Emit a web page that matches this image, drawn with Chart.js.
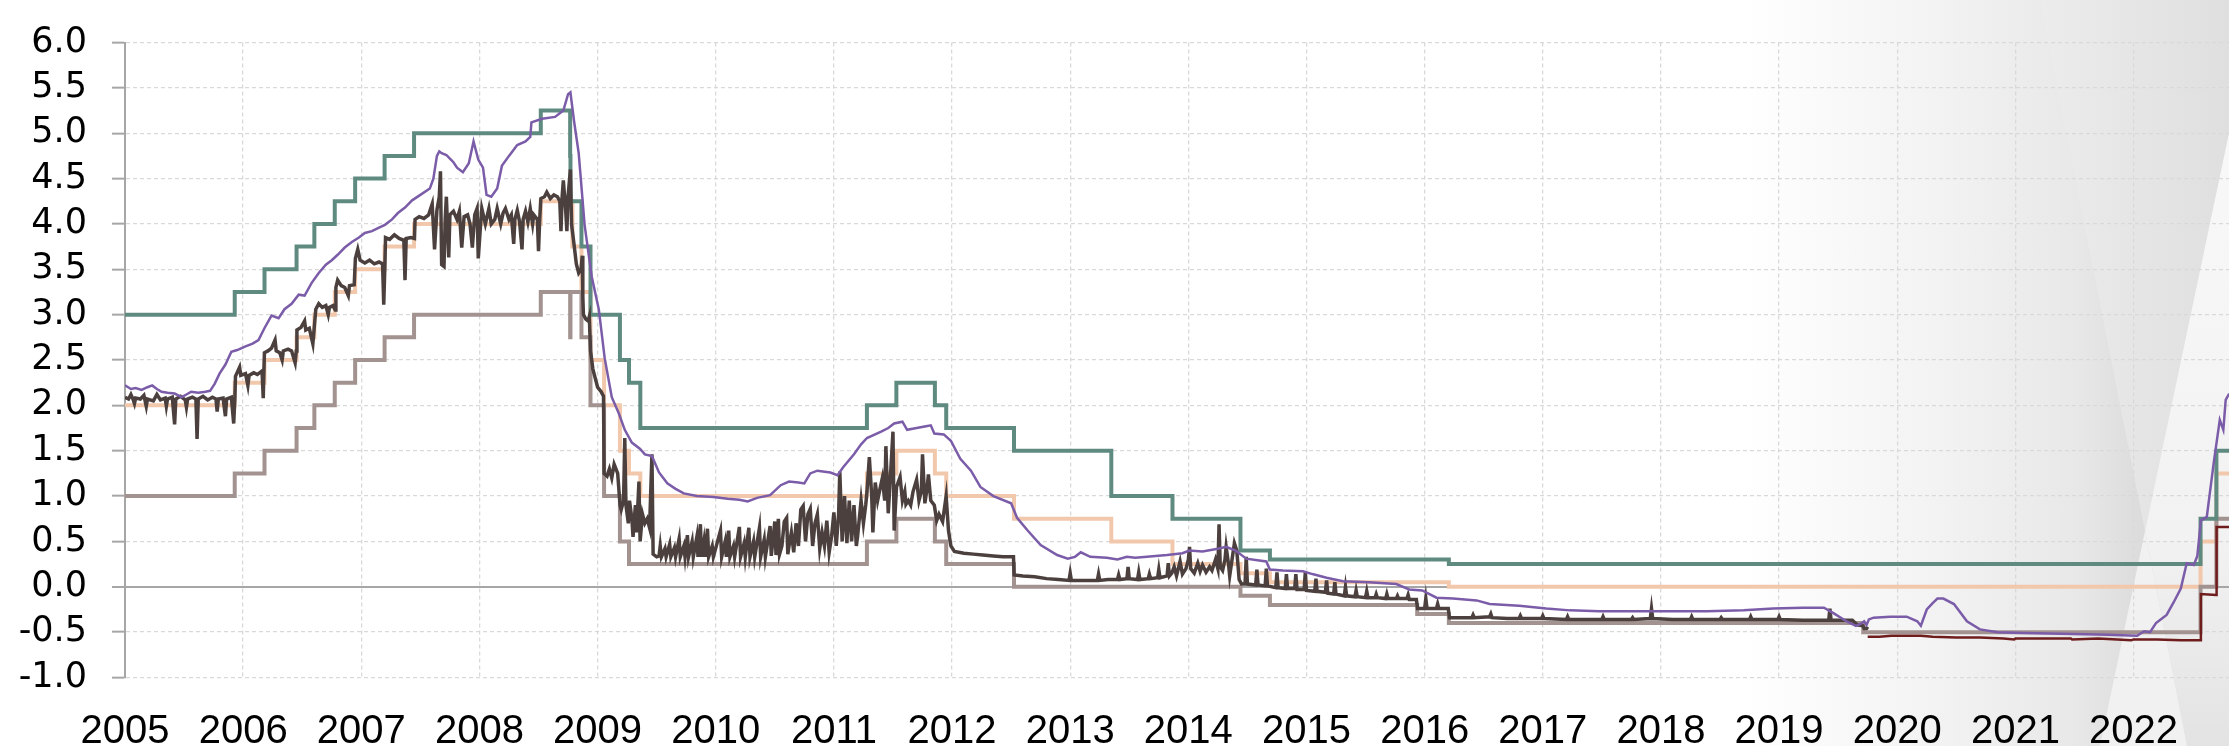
<!DOCTYPE html>
<html>
<head>
<meta charset="utf-8">
<script src="https://cdn.jsdelivr.net/npm/chart.js@4/dist/chart.umd.min.js"></script>
<style>
  html, body { margin: 0; padding: 0; background: #fff; }
  #wrap { position: relative; width: 2229px; height: 746px; }
  #bg, #rates { position: absolute; left: 0; top: 0; }
</style>
</head>
<body>
<div id="wrap">
  <svg id="bg" width="2229" height="746" viewBox="0 0 2229 746">
    <defs>
      <linearGradient id="base" gradientUnits="userSpaceOnUse" x1="1740" y1="0" x2="2150" y2="0">
        <stop offset="0" stop-color="#ffffff"/>
        <stop offset="0.5" stop-color="#f2f2f2"/>
        <stop offset="0.82" stop-color="#e8e8e8"/>
        <stop offset="1" stop-color="#dadada"/>
      </linearGradient>
      <linearGradient id="topw" gradientUnits="userSpaceOnUse" x1="2040" y1="0" x2="2229" y2="0">
        <stop offset="0" stop-color="#ececec"/>
        <stop offset="1" stop-color="#dfdfdf"/>
      </linearGradient>
      <linearGradient id="rightw" gradientUnits="userSpaceOnUse" x1="0" y1="150" x2="0" y2="746">
        <stop offset="0" stop-color="#f8f8f8"/>
        <stop offset="0.65" stop-color="#f2f2f2"/>
        <stop offset="1" stop-color="#e3e3e3"/>
      </linearGradient>
    </defs>
    <rect x="1700" y="0" width="529" height="746" fill="url(#base)"/>
    <polygon points="2040,0 2257,0 2145,531" fill="url(#topw)"/>
    <polygon points="2229,133 2229,746 2187,746 2145,531" fill="url(#rightw)"/>
    <polygon points="2145,531 2100,746 2187,746" fill="#f1f1f1"/>
  </svg>
  <canvas id="rates" width="2229" height="746"></canvas>
</div>
<script>
// year ticks on the time axis
const yearTicks = [2005, 2006, 2007, 2008, 2009, 2010, 2011, 2012, 2013, 2014,
                   2015, 2016, 2017, 2018, 2019, 2020, 2021, 2022];

// ECB policy rates (change dates)
const rateDates = ['2005-01-01', '2005-12-06', '2006-03-08', '2006-06-15', '2006-08-09', '2006-10-11',
  '2006-12-13', '2007-03-14', '2007-06-13', '2008-07-09', '2008-10-08', '2008-10-09', '2008-10-15',
  '2008-11-12', '2008-12-10', '2009-01-21', '2009-03-11', '2009-04-08', '2009-05-13', '2011-04-13',
  '2011-07-13', '2011-11-09', '2011-12-14', '2012-07-11', '2013-05-08', '2013-11-13', '2014-06-11',
  '2014-09-10', '2015-12-09', '2016-03-16', '2019-09-18', '2022-07-27', '2022-09-14', '2022-10-31'];
const marginalLending = [3.00, 3.25, 3.50, 3.75, 4.00, 4.25, 4.50, 4.75, 5.00, 5.25, 4.75, 4.25, 4.25,
  3.75, 3.00, 3.00, 2.50, 2.25, 1.75, 2.00, 2.25, 2.00, 1.75, 1.50, 1.00, 0.75, 0.40, 0.30, 0.30, 0.25,
  0.25, 0.75, 1.50, 1.50];
const mainRefi = [2.00, 2.25, 2.50, 2.75, 3.00, 3.25, 3.50, 3.75, 4.00, 4.25, 4.25, 4.25, 3.75, 3.25,
  2.50, 2.00, 1.50, 1.25, 1.00, 1.25, 1.50, 1.25, 1.00, 0.75, 0.50, 0.25, 0.15, 0.05, 0.05, 0.00, 0.00,
  0.50, 1.25, 1.25];
const depositFacility = [1.00, 1.25, 1.50, 1.75, 2.00, 2.25, 2.50, 2.75, 3.00, 3.25, 2.75, 3.25, 3.25,
  2.75, 2.00, 1.00, 0.50, 0.25, 0.25, 0.50, 0.75, 0.50, 0.25, 0.00, 0.00, 0.00, -0.10, -0.20, -0.30,
  -0.40, -0.50, 0.00, 0.75, 0.75];

// EONIA [year, %]
const eonia = [
  [2005.00,2.09],[2005.03,2.07],[2005.05,2.12],[2005.07,2.06],[2005.08,2.02],[2005.09,2.08],[2005.13,2.07],
  [2005.16,2.11],[2005.18,1.99],[2005.19,2.07],[2005.24,2.05],[2005.27,2.12],[2005.30,2.06],[2005.34,2.08],
  [2005.35,1.99],[2005.36,2.07],[2005.40,2.09],[2005.42,1.79],[2005.43,2.07],[2005.47,2.10],[2005.51,2.06],
  [2005.52,1.98],[2005.53,2.07],[2005.57,2.09],[2005.60,2.07],[2005.61,1.63],[2005.62,2.07],[2005.66,2.10],
  [2005.70,2.06],[2005.74,2.09],[2005.77,2.07],[2005.78,1.93],[2005.79,2.07],[2005.83,2.08],[2005.85,1.88],
  [2005.86,2.07],[2005.90,2.09],[2005.92,1.80],[2005.93,2.08],[2005.935,2.32],[2005.97,2.42],[2005.98,2.33],
  [2006.02,2.35],[2006.04,2.22],[2006.05,2.33],[2006.09,2.36],[2006.12,2.34],[2006.16,2.38],[2006.17,2.08],
  [2006.18,2.58],[2006.21,2.60],[2006.24,2.63],[2006.27,2.72],[2006.28,2.60],[2006.31,2.58],[2006.33,2.50],
  [2006.34,2.60],[2006.38,2.62],[2006.41,2.60],[2006.44,2.47],[2006.45,2.60],[2006.455,2.83],[2006.49,2.86],
  [2006.52,2.93],[2006.53,2.83],[2006.56,2.85],[2006.59,2.68],[2006.60,2.83],[2006.615,3.06],[2006.64,3.12],
  [2006.67,3.08],[2006.70,3.10],[2006.72,3.00],[2006.73,3.08],[2006.76,3.10],[2006.78,3.05],[2006.785,3.30],
  [2006.80,3.38],[2006.83,3.32],[2006.86,3.30],[2006.89,3.21],[2006.90,3.32],[2006.94,3.33],[2006.95,3.62],
  [2006.97,3.72],[2006.99,3.60],[2007.03,3.57],[2007.07,3.60],[2007.11,3.56],[2007.15,3.58],[2007.18,3.56],
  [2007.19,3.11],[2007.20,3.56],[2007.205,3.85],[2007.24,3.83],[2007.28,3.88],[2007.32,3.84],[2007.36,3.82],
  [2007.37,3.38],[2007.38,3.84],[2007.42,3.85],[2007.45,3.84],[2007.455,4.05],[2007.49,4.08],[2007.53,4.06],
  [2007.57,4.10],[2007.60,4.22],[2007.62,3.72],[2007.64,4.15],[2007.66,4.30],[2007.67,4.58],[2007.68,3.55],
  [2007.70,3.53],[2007.71,4.05],[2007.72,4.30],[2007.74,3.63],[2007.75,4.10],[2007.78,4.14],[2007.81,4.05],
  [2007.83,4.14],[2007.85,3.74],[2007.87,4.08],[2007.90,4.10],[2007.92,4.00],[2007.94,3.74],[2007.96,4.10],
  [2007.98,4.17],[2007.99,3.62],[2008.01,4.00],[2008.02,4.17],[2008.05,4.00],[2008.08,4.17],[2008.10,4.00],
  [2008.13,4.05],[2008.15,4.17],[2008.18,4.00],[2008.20,4.12],[2008.22,4.17],[2008.25,4.05],[2008.27,4.10],
  [2008.29,3.78],[2008.30,4.05],[2008.32,4.15],[2008.34,4.02],[2008.36,3.72],[2008.37,4.05],[2008.39,4.14],
  [2008.41,4.02],[2008.43,4.17],[2008.45,4.00],[2008.46,4.10],[2008.49,4.05],[2008.50,3.70],[2008.51,4.05],
  [2008.52,4.28],[2008.55,4.30],[2008.57,4.35],[2008.60,4.28],[2008.63,4.32],[2008.66,4.30],[2008.68,4.25],
  [2008.69,3.92],[2008.70,4.30],[2008.71,4.48],[2008.73,4.15],[2008.74,3.92],[2008.75,4.30],[2008.77,4.60],
  [2008.78,3.99],[2008.80,3.78],[2008.82,3.56],[2008.84,3.46],[2008.86,3.50],[2008.87,3.65],[2008.875,3.20],
  [2008.88,3.00],[2008.90,2.95],[2008.92,2.93],[2008.93,2.98],[2008.94,2.60],[2008.96,2.40],[2008.98,2.30],
  [2009.00,2.20],[2009.03,2.15],[2009.05,2.10],[2009.055,1.25],[2009.08,1.22],[2009.10,1.30],[2009.12,1.20],
  [2009.14,1.35],[2009.17,1.25],[2009.19,0.90],[2009.20,0.85],[2009.22,0.95],[2009.23,1.64],[2009.24,0.90],
  [2009.26,0.70],[2009.27,0.95],[2009.29,0.75],[2009.30,0.55],[2009.32,0.90],[2009.33,0.60],[2009.35,1.16],
  [2009.36,0.50],[2009.38,0.80],[2009.40,0.70],[2009.42,0.75],[2009.44,0.65],[2009.46,1.46],[2009.47,0.36],
  [2009.50,0.33],[2009.52,0.34],[2009.53,0.45],[2009.54,0.33],[2009.57,0.42],[2009.58,0.33],[2009.61,0.47],
  [2009.62,0.33],[2009.65,0.43],[2009.66,0.33],[2009.69,0.53],[2009.70,0.33],[2009.73,0.45],[2009.74,0.33],
  [2009.76,0.57],[2009.77,0.33],[2009.80,0.50],[2009.81,0.33],[2009.84,0.55],[2009.85,0.33],[2009.87,0.69],
  [2009.88,0.33],[2009.90,0.50],[2009.91,0.33],[2009.93,0.64],[2009.94,0.33],[2009.97,0.45],[2009.98,0.33],
  [2010.04,0.62],[2010.05,0.33],[2010.08,0.50],[2010.09,0.33],[2010.11,0.62],[2010.12,0.33],[2010.15,0.45],
  [2010.16,0.33],[2010.20,0.66],[2010.21,0.33],[2010.24,0.48],[2010.25,0.33],[2010.28,0.65],[2010.29,0.33],
  [2010.32,0.50],[2010.33,0.33],[2010.37,0.65],[2010.38,0.33],[2010.41,0.52],[2010.42,0.33],[2010.46,0.67],
  [2010.47,0.34],[2010.50,0.72],[2010.51,0.35],[2010.53,0.75],[2010.54,0.36],[2010.56,0.45],[2010.58,0.72],
  [2010.60,0.76],[2010.61,0.36],[2010.62,0.45],[2010.64,0.60],[2010.66,0.38],[2010.68,0.70],[2010.70,0.45],
  [2010.72,0.85],[2010.74,0.89],[2010.76,0.50],[2010.78,0.80],[2010.80,0.86],[2010.82,0.45],[2010.84,0.70],
  [2010.86,0.80],[2010.88,0.42],[2010.90,0.60],[2010.92,0.45],[2010.94,0.73],[2010.96,0.38],[2010.98,0.55],
  [2011.00,0.82],[2011.02,0.45],[2011.04,0.80],[2011.05,1.27],[2011.07,0.50],[2011.09,1.00],[2011.11,0.48],
  [2011.13,0.95],[2011.15,0.50],[2011.17,0.90],[2011.19,0.45],[2011.20,0.55],[2011.23,0.95],[2011.25,0.70],
  [2011.27,0.91],[2011.28,1.05],[2011.30,1.43],[2011.32,1.00],[2011.33,0.60],[2011.35,1.15],[2011.37,0.95],
  [2011.39,1.08],[2011.41,1.20],[2011.43,0.95],[2011.44,1.55],[2011.46,0.81],[2011.48,1.25],[2011.50,1.71],
  [2011.51,0.62],[2011.53,1.10],[2011.56,1.21],[2011.58,0.95],[2011.60,1.05],[2011.61,0.91],[2011.63,0.95],
  [2011.65,0.90],[2011.67,1.05],[2011.70,1.18],[2011.72,0.95],[2011.74,1.05],[2011.75,1.46],[2011.77,0.92],
  [2011.79,1.10],[2011.80,1.24],[2011.82,0.95],[2011.85,0.90],[2011.87,0.73],[2011.89,0.80],[2011.92,0.72],
  [2011.95,1.00],[2011.97,0.62],[2011.99,0.45],[2012.02,0.39],[2012.10,0.37],[2012.18,0.36],[2012.26,0.35],
  [2012.35,0.34],[2012.43,0.33],[2012.52,0.33],[2012.525,0.13],[2012.60,0.12],[2012.70,0.11],[2012.80,0.09],
  [2012.90,0.08],[2012.99,0.07],[2013.00,0.15],[2013.01,0.07],[2013.10,0.07],[2013.23,0.07],[2013.24,0.14],
  [2013.25,0.07],[2013.32,0.08],[2013.40,0.08],[2013.41,0.13],[2013.42,0.08],[2013.48,0.09],[2013.49,0.22],
  [2013.50,0.09],[2013.57,0.08],[2013.58,0.16],[2013.59,0.08],[2013.66,0.09],[2013.67,0.14],[2013.68,0.09],
  [2013.74,0.10],[2013.75,0.19],[2013.76,0.10],[2013.82,0.12],[2013.83,0.26],[2013.84,0.12],[2013.86,0.15],
  [2013.88,0.22],[2013.90,0.12],[2013.93,0.28],[2013.95,0.14],[2013.98,0.20],[2014.00,0.30],[2014.01,0.44],
  [2014.02,0.20],[2014.05,0.15],[2014.08,0.26],[2014.10,0.17],[2014.12,0.24],[2014.15,0.16],[2014.18,0.22],
  [2014.20,0.18],[2014.23,0.30],[2014.25,0.20],[2014.26,0.69],[2014.27,0.22],[2014.29,0.18],[2014.31,0.30],
  [2014.32,0.44],[2014.34,0.25],[2014.35,0.12],[2014.37,0.30],[2014.39,0.48],[2014.41,0.40],[2014.43,0.08],
  [2014.45,0.03],[2014.48,0.03],[2014.49,0.33],[2014.50,0.03],[2014.57,0.02],[2014.58,0.19],[2014.59,0.02],
  [2014.65,0.01],[2014.66,0.20],[2014.67,0.01],[2014.74,-0.01],[2014.75,0.16],[2014.76,-0.01],[2014.82,-0.02],
  [2014.83,0.14],[2014.84,-0.02],[2014.90,-0.02],[2014.91,0.14],[2014.92,-0.03],[2014.98,-0.03],[2014.99,0.16],
  [2015.00,-0.04],[2015.07,-0.05],[2015.08,0.09],[2015.09,-0.05],[2015.16,-0.06],[2015.17,0.07],[2015.18,-0.07],
  [2015.23,-0.08],[2015.24,0.05],[2015.25,-0.08],[2015.32,-0.10],[2015.33,0.00],[2015.34,-0.10],[2015.41,-0.11],
  [2015.42,-0.04],[2015.43,-0.11],[2015.50,-0.12],[2015.51,-0.05],[2015.52,-0.12],[2015.58,-0.12],[2015.59,-0.08],
  [2015.60,-0.12],[2015.67,-0.13],[2015.68,-0.08],[2015.69,-0.13],[2015.76,-0.13],[2015.77,-0.10],[2015.78,-0.13],
  [2015.85,-0.13],[2015.86,-0.09],[2015.87,-0.14],[2015.93,-0.14],[2015.94,-0.24],[2016.00,-0.24],[2016.01,-0.13],
  [2016.02,-0.24],[2016.10,-0.24],[2016.11,-0.19],[2016.12,-0.24],[2016.20,-0.24],[2016.21,-0.34],[2016.30,-0.34],
  [2016.40,-0.34],[2016.41,-0.31],[2016.42,-0.34],[2016.55,-0.33],[2016.56,-0.30],[2016.57,-0.34],[2016.70,-0.35],
  [2016.80,-0.35],[2016.81,-0.32],[2016.82,-0.35],[2016.99,-0.35],[2017.00,-0.32],[2017.01,-0.35],[2017.20,-0.36],
  [2017.21,-0.33],[2017.22,-0.36],[2017.50,-0.36],[2017.51,-0.33],[2017.52,-0.36],[2017.75,-0.36],[2017.76,-0.34],
  [2017.77,-0.36],[2017.91,-0.35],[2017.92,-0.24],[2017.93,-0.35],[2018.10,-0.36],[2018.25,-0.36],[2018.26,-0.33],
  [2018.27,-0.36],[2018.50,-0.36],[2018.51,-0.34],[2018.52,-0.36],[2018.75,-0.36],[2018.76,-0.33],[2018.77,-0.36],
  [2018.99,-0.36],[2019.00,-0.33],[2019.01,-0.36],[2019.20,-0.37],[2019.42,-0.37],[2019.43,-0.24],[2019.44,-0.37],
  [2019.62,-0.37],[2019.66,-0.42],[2019.71,-0.43],[2019.72,-0.46],[2019.74,-0.46],[2019.75,-0.44]
];

// 6-month Euribor [year, %]
const euribor6m = [
  [2005.00,2.22],[2005.05,2.18],[2005.09,2.19],[2005.14,2.17],[2005.19,2.20],[2005.23,2.22],[2005.27,2.18],
  [2005.31,2.15],[2005.36,2.14],[2005.42,2.13],[2005.48,2.09],[2005.52,2.12],[2005.56,2.15],[2005.62,2.14],
  [2005.68,2.15],[2005.72,2.16],[2005.76,2.24],[2005.80,2.35],[2005.85,2.45],[2005.90,2.59],[2005.95,2.61],
  [2006.02,2.65],[2006.08,2.68],[2006.13,2.72],[2006.18,2.85],[2006.24,2.99],[2006.30,2.96],[2006.35,3.06],
  [2006.41,3.12],[2006.47,3.22],[2006.52,3.21],[2006.58,3.35],[2006.64,3.46],[2006.70,3.55],[2006.75,3.60],
  [2006.80,3.66],[2006.86,3.74],[2006.92,3.80],[2006.98,3.85],[2007.03,3.90],[2007.09,3.92],[2007.15,3.96],
  [2007.20,3.99],[2007.26,4.05],[2007.31,4.12],[2007.37,4.18],[2007.43,4.26],[2007.50,4.32],[2007.58,4.39],
  [2007.61,4.50],[2007.64,4.75],[2007.66,4.80],[2007.68,4.78],[2007.72,4.76],[2007.75,4.72],[2007.78,4.68],
  [2007.81,4.62],[2007.86,4.57],[2007.91,4.67],[2007.95,4.91],[2007.99,4.71],[2008.03,4.62],[2008.06,4.32],
  [2008.10,4.30],[2008.15,4.39],[2008.19,4.64],[2008.25,4.75],[2008.32,4.87],[2008.39,4.91],[2008.43,4.96],
  [2008.44,5.12],[2008.53,5.16],[2008.64,5.18],[2008.71,5.25],[2008.75,5.43],[2008.77,5.45],[2008.80,5.14],
  [2008.84,4.78],[2008.89,3.99],[2008.95,3.42],[2009.01,3.06],[2009.06,2.52],[2009.12,2.09],[2009.18,1.91],
  [2009.23,1.73],[2009.29,1.59],[2009.36,1.52],[2009.40,1.46],[2009.46,1.44],[2009.52,1.26],[2009.59,1.14],
  [2009.66,1.08],[2009.73,1.03],[2009.84,1.00],[2009.98,0.99],[2010.10,0.97],[2010.20,0.96],[2010.27,0.94],
  [2010.35,0.98],[2010.46,1.01],[2010.55,1.12],[2010.62,1.16],[2010.70,1.15],[2010.75,1.14],[2010.80,1.25],
  [2010.86,1.28],[2010.97,1.26],[2011.03,1.23],[2011.08,1.32],[2011.17,1.46],[2011.23,1.57],[2011.28,1.64],
  [2011.40,1.71],[2011.46,1.75],[2011.51,1.80],[2011.58,1.82],[2011.62,1.73],[2011.70,1.75],[2011.78,1.77],
  [2011.82,1.78],[2011.85,1.69],[2011.93,1.68],[2011.99,1.61],[2012.07,1.41],[2012.16,1.28],[2012.24,1.10],
  [2012.35,1.00],[2012.50,0.92],[2012.55,0.76],[2012.64,0.62],[2012.75,0.46],[2012.89,0.35],[2012.98,0.31],
  [2013.04,0.33],[2013.09,0.38],[2013.17,0.33],[2013.31,0.32],[2013.40,0.30],[2013.48,0.33],[2013.55,0.32],
  [2013.65,0.33],[2013.82,0.35],[2013.95,0.37],[2014.01,0.40],[2014.12,0.39],[2014.25,0.42],[2014.32,0.44],
  [2014.40,0.40],[2014.49,0.31],[2014.60,0.29],[2014.66,0.28],[2014.69,0.19],[2014.80,0.18],[2014.97,0.17],
  [2015.05,0.14],[2015.17,0.10],[2015.31,0.06],[2015.53,0.05],[2015.76,0.03],[2015.87,-0.03],[2015.98,-0.04],
  [2016.10,-0.12],[2016.24,-0.13],[2016.44,-0.15],[2016.55,-0.19],[2016.80,-0.21],[2017.03,-0.24],[2017.23,-0.26],
  [2017.48,-0.27],[2017.79,-0.27],[2018.26,-0.27],[2018.39,-0.27],[2018.70,-0.26],[2018.95,-0.24],[2019.20,-0.23],
  [2019.38,-0.23],[2019.46,-0.29],[2019.57,-0.38],[2019.65,-0.43],[2019.69,-0.41],[2019.72,-0.38],[2019.74,-0.42],
  [2019.76,-0.36],[2019.80,-0.34],[2019.94,-0.33],[2020.08,-0.33],[2020.17,-0.38],[2020.20,-0.43],[2020.25,-0.25],
  [2020.30,-0.18],[2020.34,-0.13],[2020.39,-0.13],[2020.48,-0.19],[2020.59,-0.38],[2020.70,-0.47],[2020.85,-0.50],
  [2021.07,-0.51],[2021.49,-0.52],[2021.78,-0.53],[2022.03,-0.54],[2022.09,-0.49],[2022.14,-0.50],[2022.19,-0.40],
  [2022.28,-0.31],[2022.34,-0.17],[2022.40,-0.02],[2022.45,0.26],[2022.51,0.24],[2022.54,0.34],[2022.57,0.73],
  [2022.62,0.77],[2022.68,1.38],[2022.73,1.84],[2022.76,1.73],[2022.78,2.06],[2022.81,2.13]
];

// euro short-term rate [year, %]
const estr = [
  [2019.75,-0.55],[2019.85,-0.55],[2019.95,-0.54],[2020.10,-0.54],[2020.20,-0.54],[2020.30,-0.55],
  [2020.50,-0.56],[2020.70,-0.56],[2020.90,-0.57],[2020.99,-0.58],[2021.00,-0.57],[2021.20,-0.57],
  [2021.47,-0.57],[2021.48,-0.58],[2021.70,-0.57],[2021.98,-0.59],[2022.00,-0.58],[2022.20,-0.58],
  [2022.40,-0.59],[2022.567,-0.59],[2022.57,-0.08],[2022.70,-0.09],[2022.703,0.66],[2022.85,0.66]
];

function yearFrac(s) {
  const [y, m, d] = s.split('-').map(Number);
  const start = Date.UTC(y, 0, 1), end = Date.UTC(y + 1, 0, 1);
  return y + (Date.UTC(y, m - 1, d) - start) / (end - start);
}
const policyPoints = (vals) => rateDates.map((d, i) => ({ x: yearFrac(d), y: vals[i] }));
const pairPoints = (arr) => arr.map(([t, v]) => ({ x: t, y: v }));

Chart.defaults.font.family = '"Liberation Sans", Arial, sans-serif';
Chart.defaults.color = '#000';

const isZero = (c) => c.tick && c.tick.value === 0;

new Chart(document.getElementById('rates'), {
  type: 'line',
  data: {
    datasets: [
      { label: '6M Euribor', data: pairPoints(euribor6m), borderColor: '#7b5ca8', borderWidth: 2.5 },
      { label: '€STR', data: pairPoints(estr), borderColor: '#6e1c1c', borderWidth: 2.5 },
      { label: 'EONIA', data: pairPoints(eonia), borderColor: '#4b403d', borderWidth: 3.5 },
      { label: 'Marginal lending', data: policyPoints(marginalLending), borderColor: '#5e8a80', borderWidth: 4, stepped: true },
      { label: 'Deposit facility', data: policyPoints(depositFacility), borderColor: '#a39390', borderWidth: 4, stepped: true },
      { label: 'Main refinancing', data: policyPoints(mainRefi), borderColor: '#f1c8ac', borderWidth: 4, stepped: true }
    ]
  },
  options: {
    responsive: false,
    animation: false,
    layout: { padding: { top: 27, right: 0, bottom: 0, left: 0 } },
    elements: { point: { radius: 0 }, line: { tension: 0, borderJoinStyle: 'miter' } },
    plugins: { legend: { display: false }, tooltip: { enabled: false } },
    scales: {
      x: {
        type: 'linear',
        min: 2005,
        max: 2022.808,
        afterBuildTicks: (axis) => { axis.ticks = yearTicks.map(v => ({ value: v })); },
        afterFit: (axis) => { axis.height = 68.5; },
        ticks: { autoSkip: false, maxRotation: 0, padding: 30, font: { size: 40 }, callback: v => String(v) },
        grid: { color: '#d9d9d9', lineWidth: 1.3, drawTicks: false },
        border: { display: false, dash: [4, 3] }
      },
      y: {
        min: -1,
        max: 6,
        afterFit: (axis) => { axis.width = 125; },
        ticks: {
          stepSize: 0.5, autoSkip: false, padding: 25,
          font: { family: '"DejaVu Sans", sans-serif', size: 35, lineHeight: 1 },
          callback: v => v.toFixed(1)
        },
        grid: {
          color: c => isZero(c) ? '#a6a6a6' : '#d9d9d9',
          lineWidth: c => isZero(c) ? 2 : 1.3,
          tickColor: '#a6a6a6',
          tickLength: 13,
          tickWidth: 2
        },
        border: { display: true, color: '#a6a6a6', width: 2, dash: c => isZero(c) ? [] : [4, 3] }
      }
    }
  }
});
</script>
</body>
</html>
